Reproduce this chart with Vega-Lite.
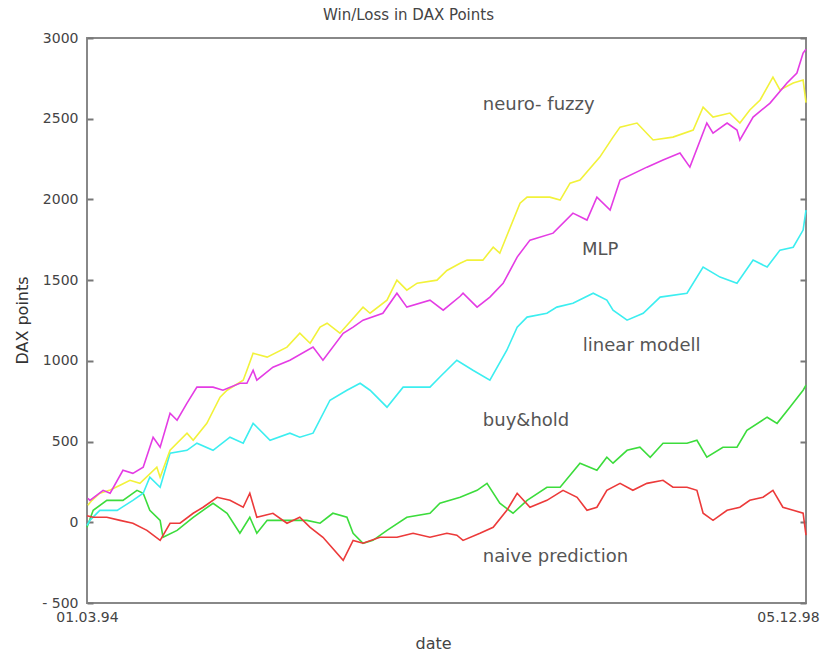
{
  "$schema": "https://vega.github.io/schema/vega-lite/v6.json",
  "width": 719,
  "height": 565,
  "autosize": "none",
  "padding": {"left": 87, "top": 38, "right": 20, "bottom": 49},
  "background": "white",
  "title": {"text": "Win/Loss in DAX Points", "font": "DejaVu Sans", "fontSize": 15, "fontWeight": "normal", "color": "#444", "offset": 8, "dx": -38},
  "config": {"view": {"stroke": "#888", "strokeWidth": 2}},
  "datasets": {
    "lines": [
      {"series": "buy&hold", "day": 0, "points": -31}, {"series": "buy&hold", "day": 15, "points": 74}, {"series": "buy&hold", "day": 48, "points": 136}, {"series": "buy&hold", "day": 87, "points": 136}, {"series": "buy&hold", "day": 121, "points": 198}, {"series": "buy&hold", "day": 136, "points": 180}, {"series": "buy&hold", "day": 152, "points": 74}, {"series": "buy&hold", "day": 177, "points": 12}, {"series": "buy&hold", "day": 184, "points": -93}, {"series": "buy&hold", "day": 218, "points": -50}, {"series": "buy&hold", "day": 257, "points": 31}, {"series": "buy&hold", "day": 305, "points": 118}, {"series": "buy&hold", "day": 339, "points": 56}, {"series": "buy&hold", "day": 370, "points": -68}, {"series": "buy&hold", "day": 394, "points": 31}, {"series": "buy&hold", "day": 411, "points": -68}, {"series": "buy&hold", "day": 436, "points": 12}, {"series": "buy&hold", "day": 467, "points": 12}, {"series": "buy&hold", "day": 499, "points": 12}, {"series": "buy&hold", "day": 532, "points": 12}, {"series": "buy&hold", "day": 564, "points": -6}, {"series": "buy&hold", "day": 595, "points": 56}, {"series": "buy&hold", "day": 629, "points": 31}, {"series": "buy&hold", "day": 644, "points": -68}, {"series": "buy&hold", "day": 668, "points": -130}, {"series": "buy&hold", "day": 692, "points": -112}, {"series": "buy&hold", "day": 726, "points": -50}, {"series": "buy&hold", "day": 774, "points": 31}, {"series": "buy&hold", "day": 830, "points": 56}, {"series": "buy&hold", "day": 854, "points": 118}, {"series": "buy&hold", "day": 903, "points": 155}, {"series": "buy&hold", "day": 944, "points": 198}, {"series": "buy&hold", "day": 968, "points": 241}, {"series": "buy&hold", "day": 999, "points": 118}, {"series": "buy&hold", "day": 1031, "points": 56}, {"series": "buy&hold", "day": 1065, "points": 136}, {"series": "buy&hold", "day": 1113, "points": 217}, {"series": "buy&hold", "day": 1145, "points": 217}, {"series": "buy&hold", "day": 1193, "points": 366}, {"series": "buy&hold", "day": 1234, "points": 322}, {"series": "buy&hold", "day": 1258, "points": 403}, {"series": "buy&hold", "day": 1273, "points": 366}, {"series": "buy&hold", "day": 1307, "points": 446}, {"series": "buy&hold", "day": 1338, "points": 465}, {"series": "buy&hold", "day": 1363, "points": 403}, {"series": "buy&hold", "day": 1394, "points": 490}, {"series": "buy&hold", "day": 1452, "points": 490}, {"series": "buy&hold", "day": 1476, "points": 508}, {"series": "buy&hold", "day": 1500, "points": 403}, {"series": "buy&hold", "day": 1539, "points": 465}, {"series": "buy&hold", "day": 1573, "points": 465}, {"series": "buy&hold", "day": 1597, "points": 570}, {"series": "buy&hold", "day": 1646, "points": 651}, {"series": "buy&hold", "day": 1670, "points": 613}, {"series": "buy&hold", "day": 1701, "points": 713}, {"series": "buy&hold", "day": 1733, "points": 818}, {"series": "buy&hold", "day": 1740, "points": 849},

      {"series": "linear modell", "day": 0, "points": -20}, {"series": "linear modell", "day": 7, "points": 12}, {"series": "linear modell", "day": 31, "points": 74}, {"series": "linear modell", "day": 73, "points": 74}, {"series": "linear modell", "day": 111, "points": 136}, {"series": "linear modell", "day": 136, "points": 180}, {"series": "linear modell", "day": 152, "points": 279}, {"series": "linear modell", "day": 177, "points": 217}, {"series": "linear modell", "day": 201, "points": 428}, {"series": "linear modell", "day": 242, "points": 446}, {"series": "linear modell", "day": 266, "points": 490}, {"series": "linear modell", "day": 305, "points": 446}, {"series": "linear modell", "day": 346, "points": 527}, {"series": "linear modell", "day": 378, "points": 490}, {"series": "linear modell", "day": 402, "points": 613}, {"series": "linear modell", "day": 443, "points": 508}, {"series": "linear modell", "day": 491, "points": 552}, {"series": "linear modell", "day": 515, "points": 527}, {"series": "linear modell", "day": 547, "points": 552}, {"series": "linear modell", "day": 588, "points": 756}, {"series": "linear modell", "day": 629, "points": 818}, {"series": "linear modell", "day": 661, "points": 861}, {"series": "linear modell", "day": 685, "points": 818}, {"series": "linear modell", "day": 726, "points": 713}, {"series": "linear modell", "day": 765, "points": 837}, {"series": "linear modell", "day": 830, "points": 837}, {"series": "linear modell", "day": 854, "points": 900}, {"series": "linear modell", "day": 895, "points": 1004}, {"series": "linear modell", "day": 934, "points": 942}, {"series": "linear modell", "day": 975, "points": 880}, {"series": "linear modell", "day": 1016, "points": 1066}, {"series": "linear modell", "day": 1041, "points": 1209}, {"series": "linear modell", "day": 1065, "points": 1271}, {"series": "linear modell", "day": 1113, "points": 1295}, {"series": "linear modell", "day": 1137, "points": 1333}, {"series": "linear modell", "day": 1176, "points": 1357}, {"series": "linear modell", "day": 1225, "points": 1419}, {"series": "linear modell", "day": 1258, "points": 1376}, {"series": "linear modell", "day": 1273, "points": 1314}, {"series": "linear modell", "day": 1307, "points": 1252}, {"series": "linear modell", "day": 1346, "points": 1295}, {"series": "linear modell", "day": 1387, "points": 1395}, {"series": "linear modell", "day": 1452, "points": 1419}, {"series": "linear modell", "day": 1491, "points": 1581}, {"series": "linear modell", "day": 1532, "points": 1519}, {"series": "linear modell", "day": 1573, "points": 1481}, {"series": "linear modell", "day": 1612, "points": 1624}, {"series": "linear modell", "day": 1646, "points": 1581}, {"series": "linear modell", "day": 1677, "points": 1686}, {"series": "linear modell", "day": 1709, "points": 1704}, {"series": "linear modell", "day": 1733, "points": 1810}, {"series": "linear modell", "day": 1740, "points": 1934},

      {"series": "neuro-fuzzy", "day": 2, "points": 105}, {"series": "neuro-fuzzy", "day": 12, "points": 136}, {"series": "neuro-fuzzy", "day": 31, "points": 180}, {"series": "neuro-fuzzy", "day": 56, "points": 200}, {"series": "neuro-fuzzy", "day": 80, "points": 230}, {"series": "neuro-fuzzy", "day": 104, "points": 260}, {"series": "neuro-fuzzy", "day": 128, "points": 241}, {"series": "neuro-fuzzy", "day": 169, "points": 341}, {"series": "neuro-fuzzy", "day": 177, "points": 279}, {"series": "neuro-fuzzy", "day": 201, "points": 446}, {"series": "neuro-fuzzy", "day": 242, "points": 552}, {"series": "neuro-fuzzy", "day": 257, "points": 508}, {"series": "neuro-fuzzy", "day": 290, "points": 613}, {"series": "neuro-fuzzy", "day": 322, "points": 775}, {"series": "neuro-fuzzy", "day": 339, "points": 818}, {"series": "neuro-fuzzy", "day": 378, "points": 880}, {"series": "neuro-fuzzy", "day": 387, "points": 942}, {"series": "neuro-fuzzy", "day": 402, "points": 1047}, {"series": "neuro-fuzzy", "day": 436, "points": 1023}, {"series": "neuro-fuzzy", "day": 484, "points": 1085}, {"series": "neuro-fuzzy", "day": 515, "points": 1171}, {"series": "neuro-fuzzy", "day": 540, "points": 1109}, {"series": "neuro-fuzzy", "day": 564, "points": 1209}, {"series": "neuro-fuzzy", "day": 581, "points": 1233}, {"series": "neuro-fuzzy", "day": 612, "points": 1171}, {"series": "neuro-fuzzy", "day": 668, "points": 1333}, {"series": "neuro-fuzzy", "day": 685, "points": 1295}, {"series": "neuro-fuzzy", "day": 726, "points": 1376}, {"series": "neuro-fuzzy", "day": 750, "points": 1500}, {"series": "neuro-fuzzy", "day": 774, "points": 1438}, {"series": "neuro-fuzzy", "day": 799, "points": 1481}, {"series": "neuro-fuzzy", "day": 847, "points": 1500}, {"series": "neuro-fuzzy", "day": 871, "points": 1560}, {"series": "neuro-fuzzy", "day": 903, "points": 1605}, {"series": "neuro-fuzzy", "day": 920, "points": 1624}, {"series": "neuro-fuzzy", "day": 958, "points": 1624}, {"series": "neuro-fuzzy", "day": 983, "points": 1704}, {"series": "neuro-fuzzy", "day": 999, "points": 1667}, {"series": "neuro-fuzzy", "day": 1048, "points": 1977}, {"series": "neuro-fuzzy", "day": 1065, "points": 2014}, {"series": "neuro-fuzzy", "day": 1120, "points": 2014}, {"series": "neuro-fuzzy", "day": 1145, "points": 1996}, {"series": "neuro-fuzzy", "day": 1169, "points": 2101}, {"series": "neuro-fuzzy", "day": 1193, "points": 2120}, {"series": "neuro-fuzzy", "day": 1241, "points": 2262}, {"series": "neuro-fuzzy", "day": 1273, "points": 2386}, {"series": "neuro-fuzzy", "day": 1290, "points": 2448}, {"series": "neuro-fuzzy", "day": 1331, "points": 2473}, {"series": "neuro-fuzzy", "day": 1370, "points": 2368}, {"series": "neuro-fuzzy", "day": 1418, "points": 2386}, {"series": "neuro-fuzzy", "day": 1467, "points": 2430}, {"series": "neuro-fuzzy", "day": 1491, "points": 2572}, {"series": "neuro-fuzzy", "day": 1515, "points": 2510}, {"series": "neuro-fuzzy", "day": 1556, "points": 2535}, {"series": "neuro-fuzzy", "day": 1580, "points": 2473}, {"series": "neuro-fuzzy", "day": 1604, "points": 2554}, {"series": "neuro-fuzzy", "day": 1629, "points": 2616}, {"series": "neuro-fuzzy", "day": 1660, "points": 2758}, {"series": "neuro-fuzzy", "day": 1677, "points": 2678}, {"series": "neuro-fuzzy", "day": 1709, "points": 2721}, {"series": "neuro-fuzzy", "day": 1733, "points": 2740}, {"series": "neuro-fuzzy", "day": 1740, "points": 2600},

      {"series": "MLP", "day": 2, "points": 149}, {"series": "MLP", "day": 7, "points": 136}, {"series": "MLP", "day": 39, "points": 198}, {"series": "MLP", "day": 56, "points": 180}, {"series": "MLP", "day": 87, "points": 322}, {"series": "MLP", "day": 111, "points": 303}, {"series": "MLP", "day": 136, "points": 341}, {"series": "MLP", "day": 160, "points": 527}, {"series": "MLP", "day": 177, "points": 465}, {"series": "MLP", "day": 201, "points": 676}, {"series": "MLP", "day": 218, "points": 632}, {"series": "MLP", "day": 242, "points": 738}, {"series": "MLP", "day": 266, "points": 837}, {"series": "MLP", "day": 305, "points": 837}, {"series": "MLP", "day": 329, "points": 818}, {"series": "MLP", "day": 370, "points": 861}, {"series": "MLP", "day": 387, "points": 861}, {"series": "MLP", "day": 402, "points": 942}, {"series": "MLP", "day": 411, "points": 880}, {"series": "MLP", "day": 450, "points": 961}, {"series": "MLP", "day": 491, "points": 1004}, {"series": "MLP", "day": 547, "points": 1085}, {"series": "MLP", "day": 571, "points": 1004}, {"series": "MLP", "day": 620, "points": 1171}, {"series": "MLP", "day": 644, "points": 1209}, {"series": "MLP", "day": 668, "points": 1252}, {"series": "MLP", "day": 716, "points": 1295}, {"series": "MLP", "day": 750, "points": 1419}, {"series": "MLP", "day": 774, "points": 1333}, {"series": "MLP", "day": 830, "points": 1376}, {"series": "MLP", "day": 862, "points": 1314}, {"series": "MLP", "day": 903, "points": 1400}, {"series": "MLP", "day": 910, "points": 1419}, {"series": "MLP", "day": 944, "points": 1333}, {"series": "MLP", "day": 975, "points": 1395}, {"series": "MLP", "day": 1007, "points": 1480}, {"series": "MLP", "day": 1041, "points": 1643}, {"series": "MLP", "day": 1072, "points": 1748}, {"series": "MLP", "day": 1128, "points": 1791}, {"series": "MLP", "day": 1176, "points": 1915}, {"series": "MLP", "day": 1210, "points": 1872}, {"series": "MLP", "day": 1234, "points": 2014}, {"series": "MLP", "day": 1266, "points": 1934}, {"series": "MLP", "day": 1290, "points": 2120}, {"series": "MLP", "day": 1355, "points": 2200}, {"series": "MLP", "day": 1394, "points": 2244}, {"series": "MLP", "day": 1435, "points": 2287}, {"series": "MLP", "day": 1459, "points": 2200}, {"series": "MLP", "day": 1500, "points": 2473}, {"series": "MLP", "day": 1515, "points": 2411}, {"series": "MLP", "day": 1549, "points": 2473}, {"series": "MLP", "day": 1573, "points": 2430}, {"series": "MLP", "day": 1580, "points": 2368}, {"series": "MLP", "day": 1612, "points": 2510}, {"series": "MLP", "day": 1653, "points": 2597}, {"series": "MLP", "day": 1694, "points": 2721}, {"series": "MLP", "day": 1718, "points": 2783}, {"series": "MLP", "day": 1733, "points": 2907}, {"series": "MLP", "day": 1740, "points": 2930},

      {"series": "naive prediction", "day": 0, "points": 40}, {"series": "naive prediction", "day": 15, "points": 31}, {"series": "naive prediction", "day": 48, "points": 31}, {"series": "naive prediction", "day": 80, "points": 12}, {"series": "naive prediction", "day": 111, "points": -6}, {"series": "naive prediction", "day": 145, "points": -50}, {"series": "naive prediction", "day": 177, "points": -112}, {"series": "naive prediction", "day": 201, "points": -6}, {"series": "naive prediction", "day": 225, "points": -6}, {"series": "naive prediction", "day": 257, "points": 56}, {"series": "naive prediction", "day": 281, "points": 93}, {"series": "naive prediction", "day": 315, "points": 155}, {"series": "naive prediction", "day": 346, "points": 136}, {"series": "naive prediction", "day": 378, "points": 93}, {"series": "naive prediction", "day": 394, "points": 180}, {"series": "naive prediction", "day": 411, "points": 31}, {"series": "naive prediction", "day": 450, "points": 56}, {"series": "naive prediction", "day": 484, "points": -6}, {"series": "naive prediction", "day": 515, "points": 31}, {"series": "naive prediction", "day": 540, "points": -31}, {"series": "naive prediction", "day": 571, "points": -93}, {"series": "naive prediction", "day": 620, "points": -236}, {"series": "naive prediction", "day": 644, "points": -112}, {"series": "naive prediction", "day": 668, "points": -130}, {"series": "naive prediction", "day": 709, "points": -93}, {"series": "naive prediction", "day": 750, "points": -93}, {"series": "naive prediction", "day": 789, "points": -68}, {"series": "naive prediction", "day": 830, "points": -93}, {"series": "naive prediction", "day": 871, "points": -68}, {"series": "naive prediction", "day": 895, "points": -80}, {"series": "naive prediction", "day": 910, "points": -112}, {"series": "naive prediction", "day": 951, "points": -68}, {"series": "naive prediction", "day": 983, "points": -31}, {"series": "naive prediction", "day": 1016, "points": 74}, {"series": "naive prediction", "day": 1041, "points": 180}, {"series": "naive prediction", "day": 1072, "points": 93}, {"series": "naive prediction", "day": 1113, "points": 136}, {"series": "naive prediction", "day": 1152, "points": 198}, {"series": "naive prediction", "day": 1186, "points": 155}, {"series": "naive prediction", "day": 1210, "points": 74}, {"series": "naive prediction", "day": 1234, "points": 93}, {"series": "naive prediction", "day": 1258, "points": 198}, {"series": "naive prediction", "day": 1290, "points": 241}, {"series": "naive prediction", "day": 1321, "points": 198}, {"series": "naive prediction", "day": 1355, "points": 241}, {"series": "naive prediction", "day": 1394, "points": 260}, {"series": "naive prediction", "day": 1418, "points": 217}, {"series": "naive prediction", "day": 1452, "points": 217}, {"series": "naive prediction", "day": 1476, "points": 198}, {"series": "naive prediction", "day": 1491, "points": 56}, {"series": "naive prediction", "day": 1515, "points": 12}, {"series": "naive prediction", "day": 1549, "points": 74}, {"series": "naive prediction", "day": 1580, "points": 93}, {"series": "naive prediction", "day": 1604, "points": 136}, {"series": "naive prediction", "day": 1636, "points": 155}, {"series": "naive prediction", "day": 1660, "points": 198}, {"series": "naive prediction", "day": 1684, "points": 93}, {"series": "naive prediction", "day": 1709, "points": 74}, {"series": "naive prediction", "day": 1733, "points": 56}, {"series": "naive prediction", "day": 1740, "points": -80}
    ],
    "labels": [
      {"label": "neuro- fuzzy", "day": 958, "points": 2585},
      {"label": "MLP", "day": 1198, "points": 1686},
      {"label": "linear modell", "day": 1200, "points": 1091},
      {"label": "buy&hold", "day": 958, "points": 626},
      {"label": "naive prediction", "day": 958, "points": -217}
    ]
  },
  "layer": [
    {
      "data": {"name": "lines"},
      "mark": {"type": "line", "strokeWidth": 1.6},
      "encoding": {
        "x": {
          "field": "day", "type": "quantitative",
          "scale": {"domain": [0, 1740], "nice": false, "zero": false},
          "axis": {
            "title": "date", "values": [0, 1740],
            "labelExpr": "datum.value == 0 ? '01.03.94' : '05.12.98'",
            "ticks": false, "domain": false, "grid": false,
            "labelPadding": 7, "labelFlush": false, "labelOverlap": false, "labelBound": false,
            "labelOffset": {"condition": {"test": "datum.value > 0", "value": -18}, "value": 0},
            "labelFont": "DejaVu Sans", "labelFontSize": 14, "labelColor": "#444",
            "titleFont": "DejaVu Sans", "titleFontSize": 16, "titleFontWeight": "normal", "titleColor": "#444",
            "titleX": 346, "titleY": 32, "titleBaseline": "top", "titleAlign": "center"
          }
        },
        "y": {
          "field": "points", "type": "quantitative",
          "scale": {"domain": [-500, 3000], "nice": false, "zero": false},
          "axis": {
            "title": "DAX points", "values": [-500, 0, 500, 1000, 1500, 2000, 2500, 3000],
            "format": "d",
            "labelExpr": "datum.value < 0 ? '- ' + abs(datum.value) : datum.label",
            "tickSize": -6, "tickColor": "#777", "tickWidth": 2,
            "domain": false, "grid": false,
            "labelPadding": 15, "labelOverlap": false, "labelBound": false,
            "labelFont": "DejaVu Sans", "labelFontSize": 14, "labelColor": "#444", "labelBaseline": "middle",
            "titleFont": "DejaVu Sans", "titleFontSize": 16, "titleFontWeight": "normal", "titleColor": "#333",
            "titleX": -65, "titleY": 282, "titleAlign": "center", "titleBaseline": "middle", "titleAngle": -90
          }
        },
        "color": {
          "field": "series", "type": "nominal",
          "scale": {
            "domain": ["buy&hold", "linear modell", "neuro-fuzzy", "MLP", "naive prediction"],
            "range": ["#3cdc3c", "#3ceef0", "#f2f23a", "#e43ce4", "#ec3a3a"]
          },
          "legend": null
        }
      }
    },
    {
      "data": {"name": "labels"},
      "mark": {"type": "text", "align": "left", "baseline": "middle", "font": "DejaVu Sans", "fontSize": 18, "color": "#555"},
      "encoding": {
        "x": {"field": "day", "type": "quantitative"},
        "y": {
          "field": "points", "type": "quantitative",
          "axis": {
            "orient": "right", "title": null, "labels": false,
            "values": [-500, 0, 500, 1000, 1500, 2000, 2500, 3000],
            "tickSize": -6, "tickColor": "#777", "tickWidth": 2,
            "domain": false, "grid": false
          }
        },
        "text": {"field": "label"}
      }
    }
  ],
  "resolve": {"axis": {"y": "independent"}}
}
